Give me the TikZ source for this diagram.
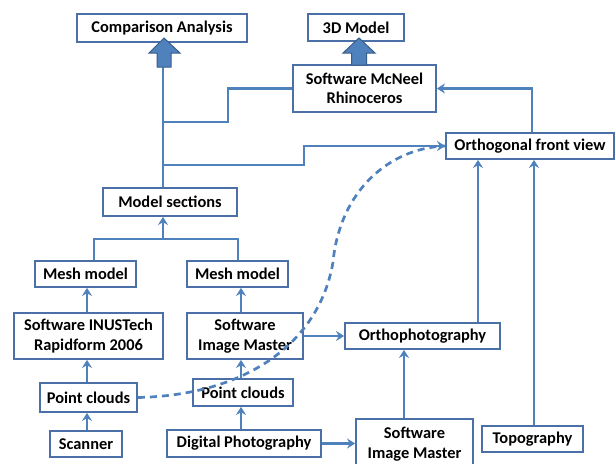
\documentclass[tikz,border=0pt]{standalone}
\usepackage{fontspec}
\setmainfont{Carlito}
\usetikzlibrary{arrows.meta}
\definecolor{lineblue}{RGB}{79,129,189}
\definecolor{boxblue}{RGB}{75,112,168}
\definecolor{darkblue}{RGB}{56,93,138}
\begin{document}
\begin{tikzpicture}[x=1pt,y=-1pt,
  box/.style={draw=boxblue,line width=1.8pt,fill=white,inner sep=0pt,
    font=\bfseries\fontsize{16.4}{19.5}\selectfont,align=center},
  conn/.style={draw=lineblue,line width=2.7pt},
  arr/.style={conn,-{Stealth[length=8pt,width=10pt]}},
  blockarrow/.style={fill=lineblue,draw=darkblue,line width=1pt,line join=miter}]
\useasboundingbox (0,0) rectangle (615,463);
% nodes
\node[box,minimum width=170pt,minimum height=28pt] (comp) at (162,28) {Comparison Analysis};
\node[box,minimum width=96pt,minimum height=27pt] (model3d) at (356,27.5) {3D Model};
\node[box,minimum width=143pt,minimum height=47pt] (rhino) at (364.5,88.5) {Software McNeel\\Rhinoceros};
\node[box,minimum width=168pt,minimum height=26pt] (ofv) at (530,146) {Orthogonal front view};
\node[box,minimum width=134pt,minimum height=28pt] (msec) at (170,202) {Model sections};
\node[box,minimum width=101pt,minimum height=26pt] (mesh1) at (85.5,274) {Mesh model};
\node[box,minimum width=101pt,minimum height=26pt] (mesh2) at (237.5,274) {Mesh model};
\node[box,minimum width=149pt,minimum height=46pt] (inus) at (88.5,336) {Software INUSTech\\Rapidform 2006};
\node[box,minimum width=116pt,minimum height=46pt] (sim1) at (245,336) {Software\\Image Master};
\node[box,minimum width=97pt,minimum height=29pt] (pc1) at (88.5,397.5) {Point clouds};
\node[box,minimum width=100pt,minimum height=27pt] (pc2) at (243,392.5) {Point clouds};
\node[box,minimum width=72pt,minimum height=26pt] (scan) at (86,444) {Scanner};
\node[box,minimum width=154pt,minimum height=27pt] (dphoto) at (244,443.5) {Digital Photography};
\node[box,minimum width=155pt,minimum height=26pt] (ortho) at (422.5,336) {Orthophotography};
\node[box,minimum width=117pt,minimum height=50pt] (sim2) at (414.5,444) {Software\\Image Master};
\node[box,minimum width=101pt,minimum height=26pt] (topo) at (532.5,439) {Topography};
% reference x positions
\coordinate (x87) at (87,0);
\coordinate (x94) at (94,0);
\coordinate (x163) at (163,0);
\coordinate (x238) at (238,0);
\coordinate (x241) at (241,0);
\coordinate (x404) at (404,0);
\coordinate (x478) at (478,0);
\coordinate (x532) at (532,0);
\coordinate (x534) at (534,0);
\coordinate (jA) at (163,122);
\coordinate (jB) at (163,165);
\coordinate (jM) at (163,239);
\coordinate (shaftC) at (163,67);
% top connectors
\draw[conn] (msec.north -| x163) -- (shaftC);
\draw[conn] (jA) -- (228,122) |- (rhino.west);
\draw[arr] (jB) -- (304,165) |- (ofv.west);
\draw[arr] (ofv.north -| x532) |- (rhino.east);
% block arrows
\draw[blockarrow] (149,53) -- (164,38) -- (180,53) -- (171,53) -- (171,67) -- (157,67) -- (157,53) -- cycle;
\draw[blockarrow] (343,53) -- (359,38) -- (375,53) -- (366.5,53) -- (366.5,65) -- (351.5,65) -- (351.5,53) -- cycle;
% mesh to model sections
\draw[conn] (mesh1.north -| x94) -- (94,239) -- (238,239) -- (mesh2.north -| x238);
\draw[arr] (jM) -- (msec.south -| x163);
% left column
\draw[arr] (inus.north -| x87) -- (mesh1.south -| x87);
\draw[arr] (pc1.north -| x87) -- (inus.south -| x87);
\draw[arr] (scan.north -| x87) -- (pc1.south -| x87);
% middle column
\draw[arr] (sim1.north -| x241) -- (mesh2.south -| x241);
\draw[arr] (pc2.north -| x241) -- (sim1.south -| x241);
\draw[arr] (dphoto.north -| x241) -- (pc2.south -| x241);
% right side
\draw[arr] (sim1.east) -- (ortho.west);
\draw[arr] (dphoto.east) -- (sim2.west |- dphoto.east);
\draw[arr] (sim2.north -| x404) -- (ortho.south -| x404);
\draw[arr] (ortho.north -| x478) -- (ofv.south -| x478);
\draw[arr] (topo.north -| x534) -- (ofv.south -| x534);
% dashed curve
\draw[conn,dash pattern=on 7pt off 5pt] (pc1.east) .. controls (250,395) and (320,340) .. (333,262)
  .. controls (340,190) and (390,148) .. (ofv.west);
\end{tikzpicture}
\end{document}
